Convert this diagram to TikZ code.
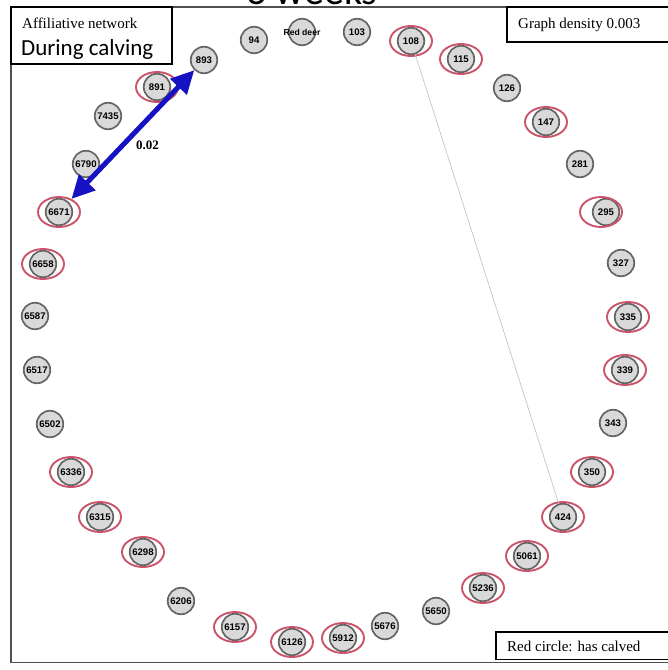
\documentclass[tikz,border=0pt]{standalone}
\usepackage{fontspec}
\usepackage{tikz}
\usetikzlibrary{arrows.meta,shapes.geometric}
\setmainfont{Liberation Serif}
\newfontfamily\labelfont{Liberation Sans}
\newfontfamily\titlefont{Carlito}

\definecolor{nodefill}{RGB}{217,217,217}
\definecolor{nodeedge}{RGB}{100,100,100}
\definecolor{ringred}{RGB}{204,84,106}
\definecolor{linkblue}{RGB}{22,18,196}

\begin{document}
\begin{tikzpicture}[x=1pt, y=-1pt,
    state/.style={circle, draw=nodeedge, fill=nodefill, line width=1.7pt,
        minimum size=26.5pt, inner sep=0pt,
        font=\labelfont\bfseries\fontsize{9.6}{9.6}\selectfont},
    ring/.style={ellipse, draw=ringred, line width=1.9pt,
        minimum width=42pt, minimum height=30pt, inner sep=0pt},
    calved/.style={state, label={[ring]center:{}}},
    infobox/.style={draw=black, line width=1.4pt},
    boxtext/.style={anchor=base west, inner sep=0pt, font=\fontsize{15}{15}\selectfont},
    link/.style={draw=linkblue, line width=5pt,
        {Triangle[length=23pt, width=22pt]}-{Triangle[length=23pt, width=22pt]}},
    weight/.style={font=\bfseries\fontsize{13}{13}\selectfont, inner sep=2pt}]

    \useasboundingbox (0,0) rectangle (668,670);

    % Title (cut off at the top)
    \node[anchor=base, inner sep=0pt, font=\titlefont\fontsize{40}{40}\selectfont]
        (title) at (312,4.5) {3 weeks};

    % Frame and boxes
    \draw[draw={rgb,255:red,80;green,80;blue,80}, line width=1.2pt] (11,7) rectangle (690,662.5);
    \draw[infobox] (11,7) rectangle (172,64);
    \draw[infobox] (507,7) rectangle (690,42);
    \draw[infobox] (496,632) rectangle (690,659.5);
    \node[boxtext] (network) at (22,28) {Affiliative network};
    \node[boxtext, font=\titlefont\fontsize{23}{23}\selectfont] (phase) at (21,55) {During calving};
    \node[boxtext] (density) at (518,28) {Graph density 0.003};
    \node[boxtext] (legend) at (507,651) {Red circle: has calved};

    % Nodes
    \node[state] (n893) at (204,60) {893};
    \node[state] (n94) at (254,40) {94};
    \node[state, label={[font=\labelfont\bfseries\fontsize{8.6}{8.6}\selectfont]center:Red deer}] (rd) at (302,32) {};
    \node[state] (n103) at (357,32) {103};
    \node[calved] (n108) at (411,41) {108};
    \node[calved] (n115) at (461,59) {115};
    \node[state] (n126) at (507,88) {126};
    \node[calved] (n147) at (546,122) {147};
    \node[state] (n281) at (580,164) {281};
    \node[state, label={[ring, xshift=-5pt]center:{}}] (n295) at (606,212) {295};
    \node[state] (n327) at (621,263) {327};
    \node[calved] (n335) at (628,317) {335};
    \node[calved] (n339) at (625,370) {339};
    \node[state] (n343) at (613,423) {343};
    \node[calved] (n350) at (592,472) {350};
    \node[calved] (n424) at (563,517) {424};
    \node[calved] (n5061) at (527,556) {5061};
    \node[calved] (n5236) at (483,588) {5236};
    \node[state] (n5650) at (436,611) {5650};
    \node[state] (n5676) at (385,626) {5676};
    \node[calved] (n5912) at (343,638) {5912};
    \node[calved] (n6126) at (292,642) {6126};
    \node[calved] (n6157) at (235,627) {6157};
    \node[state] (n6206) at (181,601) {6206};
    \node[calved] (n6298) at (143,552) {6298};
    \node[calved] (n6315) at (100,517) {6315};
    \node[calved] (n6336) at (71,472) {6336};
    \node[state] (n6502) at (50,424) {6502};
    \node[state] (n6517) at (37,370) {6517};
    \node[state] (n6587) at (35,316) {6587};
    \node[calved] (n6658) at (43,264) {6658};
    \node[calved] (n6671) at (59,212) {6671};
    \node[state] (n6790) at (86,164) {6790};
    \node[state] (n7435) at (108,116) {7435};
    \node[calved] (n891) at (157,87) {891};

    % Edges
    \draw[draw={rgb,255:red,190;green,190;blue,190}, line width=0.6pt] (n108) -- (n424);
    \draw[link, shorten <=4pt] (n6671) -- (n893)
        node[weight, midway, anchor=north west] {0.02};

\end{tikzpicture}
\end{document}
